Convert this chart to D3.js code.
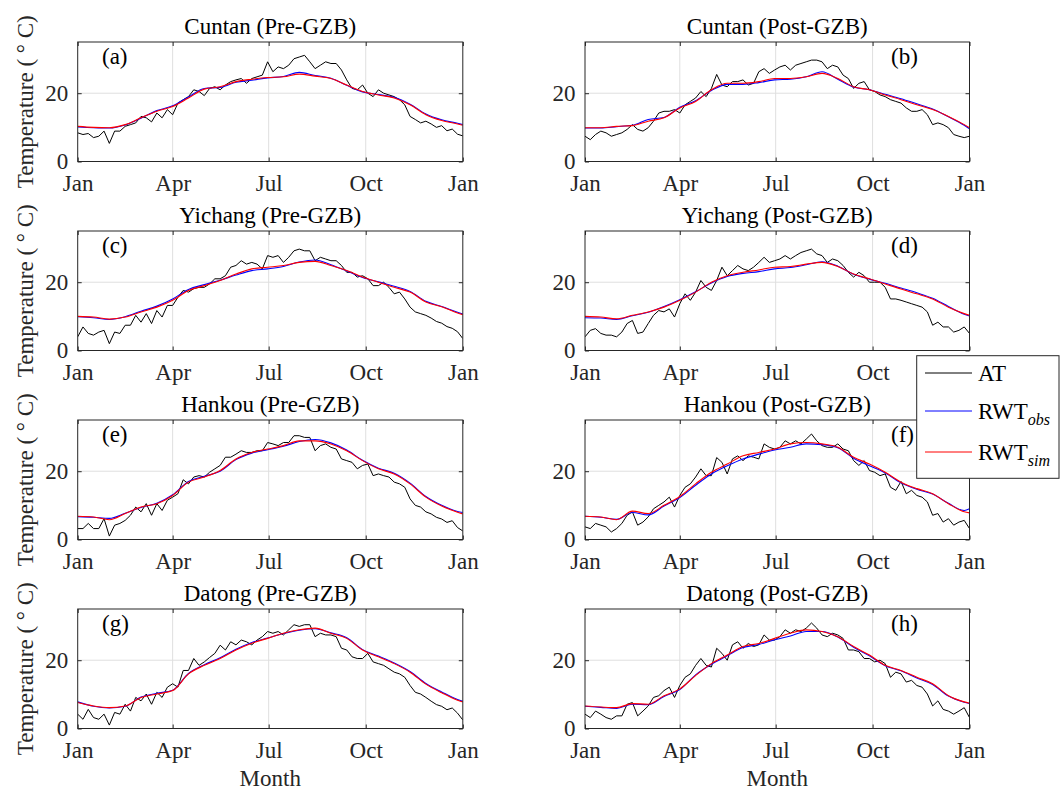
<!DOCTYPE html>
<html><head><meta charset="utf-8">
<script src="https://cdn.jsdelivr.net/npm/d3@7"></script>
<style>body{margin:0;background:#fff}svg{display:block}</style>
</head><body><svg id="c" width="1060" height="792"></svg>
<script>
// ---------- data ----------
const monthLabels = ["Jan","Apr","Jul","Oct","Jan"];
const monthDays = [0,90,181,273,365];
const yTickValues = [0,20];
const atDays = d3.range(0,366,5);               // daily series sampled every 5 days
const rwtDays = [0,15,30,45,60,75,90,105,120,135,150,165,180,195,210,225,240,255,270,285,300,315,330,345,360,365];

const titles = ["Cuntan (Pre-GZB)","Cuntan (Post-GZB)","Yichang (Pre-GZB)","Yichang (Post-GZB)",
                "Hankou (Pre-GZB)","Hankou (Post-GZB)","Datong (Pre-GZB)","Datong (Post-GZB)"];
const panelTags = ["(a)","(b)","(c)","(d)","(e)","(f)","(g)","(h)"];
const legendNames = ["AT","RWT","RWT"];
const legendSubs = ["","obs","sim"];

const atA = [8.4,7.9,8.2,7.0,7.4,8.9,5.3,8.9,8.9,10.3,
10.8,11.3,13.2,12.8,11.6,14.2,12.8,15.2,13.7,17.1,
18.1,19.0,21.0,20.5,19.3,21.4,21.9,21.0,22.4,23.4,
23.9,24.3,22.9,24.3,24.8,25.3,29.2,26.3,27.7,27.2,
28.2,30.1,30.6,31.1,29.2,27.2,28.2,29.2,28.7,28.7,
26.8,23.9,21.4,21.0,22.4,20.0,19.0,21.0,20.0,19.5,
19.0,18.1,16.6,13.2,12.3,11.3,11.8,11.0,10.0,10.5,
9.0,9.5,8.0,7.5];
const atB = [7.4,6.4,7.9,8.9,8.4,7.4,7.9,8.4,9.4,10.8,
9.4,8.9,9.9,11.8,14.2,14.7,14.7,15.2,14.2,16.6,
17.6,18.6,20.5,19.0,21.4,25.5,22.4,21.9,23.4,23.4,
23.9,22.4,22.9,26.3,27.2,25.8,26.8,27.7,28.2,26.8,
28.2,28.7,29.2,29.7,29.7,29.2,27.2,28.2,27.7,25.3,
24.3,21.4,22.9,23.4,21.0,20.5,19.5,19.0,18.1,17.6,
17.1,15.7,14.7,14.7,15.2,13.7,10.8,11.3,10.8,9.9,
7.9,7.4,7.0,7.4];
const atC = [4.0,6.9,5.0,4.5,5.4,5.9,2.0,5.4,5.0,7.4,
7.4,10.3,8.3,10.8,7.9,11.7,9.8,13.2,13.2,15.6,
17.6,17.1,18.1,18.5,18.5,19.5,21.0,21.0,21.9,24.4,
24.9,26.3,25.3,25.8,25.3,23.9,27.8,27.3,27.8,25.8,
27.3,29.2,29.7,29.2,29.2,26.3,27.3,26.8,26.3,26.3,
24.9,22.9,22.9,21.5,21.9,21.0,19.0,19.0,20.0,18.5,
16.6,17.1,15.1,12.7,11.3,10.8,10.3,9.5,8.5,8.0,
7.0,6.5,5.5,3.5];
const atD = [4.0,5.9,6.4,5.0,4.5,4.5,4.0,5.4,7.9,8.8,
5.0,5.4,7.9,10.3,11.7,11.3,12.2,9.8,13.7,16.6,
14.7,17.1,20.5,18.5,17.6,20.5,24.4,21.9,23.4,24.9,
23.9,23.4,24.4,25.8,27.3,25.8,26.3,26.8,27.8,26.8,
27.8,28.7,29.2,29.7,28.3,27.8,25.8,26.8,26.3,24.9,
22.9,21.5,22.9,21.9,20.0,20.0,20.0,18.5,15.1,15.1,
14.7,14.2,13.7,13.2,12.7,11.3,7.4,8.3,6.9,6.9,
5.4,5.9,6.9,5.0];
const atE = [3.2,3.2,4.7,3.2,3.2,6.1,1.0,4.2,4.7,5.6,
7.1,9.5,8.1,10.5,7.1,10.5,8.5,11.5,12.4,13.4,
17.5,16.3,18.3,18.7,18.3,19.7,20.7,21.7,24.1,24.1,
25.0,26.0,25.5,25.5,26.0,26.0,28.4,28.0,27.5,28.4,
28.4,30.4,30.4,29.9,29.9,26.0,27.5,28.0,27.0,26.5,
23.6,23.1,22.6,20.7,21.7,22.1,18.7,19.2,18.7,18.3,
16.8,16.3,15.3,11.9,10.0,9.5,8.1,7.5,6.5,6.0,
5.0,5.5,3.5,2.5];
const atF = [3.7,3.2,4.7,4.2,3.7,2.2,3.2,4.7,7.1,8.1,
4.2,5.1,6.6,9.0,10.0,11.0,12.4,9.5,12.9,15.3,
16.3,18.3,20.7,18.7,18.7,24.0,22.6,19.2,23.6,24.5,
23.1,24.5,24.1,23.6,28.0,27.0,26.5,27.0,28.9,28.0,
28.9,28.0,29.4,30.9,28.9,27.5,27.0,27.0,28.0,26.5,
26.0,23.1,21.7,23.1,20.2,19.7,18.7,19.2,15.3,14.4,
17.0,13.4,14.4,12.9,12.4,11.0,7.1,7.6,5.1,6.1,
4.2,5.1,5.6,3.2];
const atG = [4.2,2.7,5.6,3.2,2.7,4.2,1.0,4.7,4.2,7.1,
5.1,9.1,8.1,10.1,7.1,10.6,9.1,12.1,13.1,12.1,
17.0,17.0,20.5,18.5,19.5,20.8,22.0,24.4,23.0,25.4,
24.5,25.9,25.4,24.5,25.9,26.9,28.4,27.9,28.4,27.4,
28.9,30.4,29.9,30.4,30.4,26.9,27.9,27.4,27.4,26.9,
23.5,23.0,21.0,20.5,20.5,22.0,19.5,19.0,18.5,17.5,
16.5,16.0,15.0,12.6,10.6,10.1,9.1,8.0,7.0,6.5,
5.5,6.0,4.5,2.5];
const atH = [4.2,3.2,5.1,4.2,3.2,2.7,3.7,3.7,7.1,7.6,
3.7,5.1,6.6,9.1,9.6,11.1,12.1,9.1,12.6,15.0,
16.0,18.5,20.5,18.5,18.0,23.5,22.0,20.0,24.5,25.4,
23.5,24.9,24.0,24.5,27.4,25.9,25.9,26.9,28.9,27.9,
28.9,28.4,29.4,30.9,29.4,27.4,26.9,27.9,27.4,26.4,
23.0,23.0,22.5,20.5,20.5,19.5,20.0,19.0,15.0,16.5,
16.0,13.6,14.1,12.6,12.1,10.1,6.6,8.1,5.6,5.1,
4.2,5.1,6.1,3.2];

const obsA = [10.1,9.9,9.8,10.7,12.7,14.9,16.3,18.9,21.4,21.7,23.2,23.8,24.5,24.9,26.1,25.2,24.4,22.3,20.4,19.6,18.8,16.8,13.9,12.2,11.2,10.8];
const simA = [10.3,10.0,9.9,10.8,12.8,14.7,16.1,18.6,21.2,21.9,23.4,24.1,24.6,24.8,25.6,25.0,24.3,22.4,20.5,19.5,18.6,16.6,13.7,12.0,11.0,10.6];
const obsB = [9.8,9.8,10.2,10.6,12.3,12.9,15.9,17.8,20.8,22.6,22.6,23.1,23.9,24.1,24.8,26.3,24.1,21.8,21.0,19.7,18.4,16.9,15.4,13.1,10.6,9.6];
const simB = [9.9,9.9,10.3,10.5,11.8,12.8,15.7,17.6,21.0,22.9,22.9,23.4,24.3,24.3,24.8,25.8,24.3,21.9,21.0,19.5,18.1,16.6,15.2,13.2,10.8,9.9];
const obsC = [9.9,9.6,9.1,9.9,11.5,13.0,15.1,17.9,19.3,20.6,22.1,23.4,23.9,24.6,25.9,26.5,25.1,23.3,21.4,20.1,18.8,17.3,14.4,12.9,11.2,10.7];
const simC = [10.0,9.8,9.2,9.8,11.3,12.7,14.7,17.6,19.0,20.5,22.4,23.9,24.4,24.9,25.8,26.1,24.9,23.4,21.5,20.0,18.5,17.1,14.2,12.8,11.0,10.5];
const obsD = [9.6,9.5,9.1,10.2,11.2,12.9,14.9,17.2,19.8,21.7,22.6,23.1,23.9,24.3,25.1,26.0,24.7,22.3,20.9,19.7,18.3,16.9,15.3,12.9,10.6,10.1];
const simD = [10.0,9.8,9.3,10.3,11.3,12.7,14.7,17.1,20.0,21.9,22.9,23.6,24.4,24.6,25.3,25.8,24.6,22.4,21.0,19.5,18.0,16.6,15.1,12.7,10.8,10.3];
const obsE = [6.7,6.5,6.2,7.7,9.4,10.6,13.1,17.0,18.5,20.0,23.4,25.3,26.3,27.3,28.7,29.3,28.3,26.2,23.2,20.9,19.4,16.5,12.6,10.0,8.2,7.9];
const simE = [6.8,6.6,5.8,7.6,9.5,10.5,12.9,16.8,18.3,20.2,23.6,25.5,26.5,27.5,28.9,28.9,28.0,26.0,23.1,20.7,19.2,16.3,12.4,9.8,8.0,7.5];
const obsF = [6.8,6.5,5.9,7.9,7.2,9.8,12.3,15.9,19.2,21.6,23.6,25.0,26.2,27.0,28.0,27.8,26.9,23.8,21.6,19.5,16.6,14.7,13.3,10.6,8.5,9.0];
const simF = [6.8,6.6,5.8,8.3,7.6,10.0,12.6,16.3,19.7,22.1,24.5,25.5,26.5,28.0,28.4,28.0,27.0,24.1,22.1,19.7,16.8,14.9,13.4,10.5,8.1,7.8];
const obsG = [7.8,6.5,6.0,6.5,9.2,10.3,11.2,16.1,18.7,20.7,23.2,25.2,26.5,27.8,28.8,29.2,28.0,26.6,23.1,21.2,19.2,16.7,13.2,10.7,8.5,8.0];
const simG = [7.6,6.6,6.1,6.6,9.1,10.1,11.1,16.0,18.5,20.5,23.0,25.0,26.4,27.9,28.9,29.4,27.9,26.4,23.0,21.0,19.0,16.5,13.0,10.5,8.3,7.8];
const obsH = [6.5,6.2,5.9,7.1,7.0,9.4,11.4,15.7,18.8,21.3,23.7,24.6,26.0,27.1,28.4,28.4,26.8,23.8,21.3,18.4,16.9,14.8,12.9,9.5,7.7,7.3];
const simH = [6.6,6.3,6.1,7.3,7.1,9.6,11.6,15.5,19.0,21.5,24.0,24.9,26.4,27.9,28.9,28.4,26.9,24.0,21.5,18.5,17.0,15.0,13.1,9.6,7.8,7.4];

const atSeries = [atA,atB,atC,atD,atE,atF,atG,atH];
const obsSeries = [obsA,obsB,obsC,obsD,obsE,obsF,obsG,obsH];
const simSeries = [simA,simB,simC,simD,simE,simF,simG,simH];

// ---------- layout ----------
const colX = [[77.7,462.8],[585,969.5]];
const rowY = [[42,161.5],[231,350.5],[420,539.5],[609,728.5]];
const axisColor = "#262626", gridColor = "#dfdfdf";
const FONT = "'Liberation Serif','Times New Roman',serif";
const FS = 23;

const svg = d3.select("#c");
svg.append("rect").attr("width",1060).attr("height",792).attr("fill","#fff");

titles.forEach((title,i)=>{
  const col = i%2, row = Math.floor(i/2);
  const [x0,x1] = colX[col], [top,bot] = rowY[row];
  const x = d3.scaleLinear().domain([0,365]).range([x0,x1]);
  const y = d3.scaleLinear().domain([0,35]).range([bot,top]);
  const g = svg.append("g");

  // grid
  g.selectAll(".gx").data(monthDays.slice(1,4)).join("line")
    .attr("x1",d=>x(d)).attr("x2",d=>x(d)).attr("y1",top).attr("y2",bot)
    .attr("stroke",gridColor).attr("stroke-width",1);
  g.selectAll(".gy").data([20]).join("line")
    .attr("x1",x0).attr("x2",x1).attr("y1",d=>y(d)).attr("y2",d=>y(d))
    .attr("stroke",gridColor).attr("stroke-width",1);

  const clipId = "clip"+i;
  svg.append("clipPath").attr("id",clipId).append("rect")
    .attr("x",x0).attr("y",top).attr("width",x1-x0).attr("height",bot-top);
  const lg = g.append("g").attr("clip-path",`url(#${clipId})`);

  const lineAT = d3.line().x((d,k)=>x(atDays[k])).y(d=>y(d));
  const lineRWT = d3.line().x((d,k)=>x(rwtDays[k])).y(d=>y(d)).curve(d3.curveMonotoneX);
  lg.append("path").attr("d",lineAT(atSeries[i])).attr("fill","none").attr("stroke","#000").attr("stroke-width",1);
  lg.append("path").attr("d",lineRWT(obsSeries[i])).attr("fill","none").attr("stroke","#0000ff").attr("stroke-width",1.1);
  lg.append("path").attr("d",lineRWT(simSeries[i])).attr("fill","none").attr("stroke","#ff0000").attr("stroke-width",1.1);

  // axes
  const styleAxis = sel => {
    sel.select(".domain").remove();
    sel.selectAll("line").attr("stroke",axisColor);
    sel.selectAll("text").attr("fill",axisColor).style("font-family",FONT).style("font-size",FS+"px");
  };
  // the last "Jan" label of panel (d) lies under the legend box, as in the reference
  const xFmt = (d,k) => (i===3 && k===4) ? "" : monthLabels[k];
  g.append("g").attr("transform",`translate(0,${bot})`)
    .call(d3.axisBottom(x).tickValues(monthDays).tickFormat(xFmt).tickSizeInner(-4).tickSizeOuter(0).tickPadding(13.5))
    .call(styleAxis);
  g.append("g").attr("transform",`translate(0,${top})`)
    .call(d3.axisTop(x).tickValues(monthDays).tickFormat("").tickSizeInner(-4).tickSizeOuter(0))
    .call(styleAxis);
  g.append("g").attr("transform",`translate(${x0},0)`)
    .call(d3.axisLeft(y).tickValues(yTickValues).tickSizeInner(-4).tickSizeOuter(0).tickPadding(9.5))
    .call(styleAxis);
  g.append("g").attr("transform",`translate(${x1},0)`)
    .call(d3.axisRight(y).tickValues(yTickValues).tickFormat("").tickSizeInner(-4).tickSizeOuter(0))
    .call(styleAxis);

  g.append("rect").attr("x",x0).attr("y",top).attr("width",x1-x0).attr("height",bot-top)
    .attr("fill","none").attr("stroke",axisColor).attr("stroke-width",1);

  // title
  g.append("text").attr("x",(x0+x1)/2).attr("y",top-8.5).attr("text-anchor","middle")
    .style("font-family",FONT).style("font-size",FS+"px").attr("fill","#000").text(title);
  // panel tag
  g.append("text").attr("x", col===0 ? x0+24.3 : x0+306).attr("y",top+22)
    .style("font-family",FONT).style("font-size",FS+"px").attr("fill","#000").text(panelTags[i]);

  if(col===0){
    g.append("text").attr("transform",`translate(32.5,${(top+bot)/2}) rotate(-90)`)
      .attr("text-anchor","middle").style("font-family",FONT).style("font-size",FS+"px")
      .attr("fill",axisColor).text("Temperature ( ° C)");
  }
  if(row===3){
    g.append("text").attr("x",(x0+x1)/2).attr("y",786).attr("text-anchor","middle")
      .style("font-family",FONT).style("font-size",FS+"px").attr("fill",axisColor).text("Month");
  }
});

// legend
const L = {x:916.7, y:355.7, w:142.3, h:122.6};
const lgG = svg.append("g");
lgG.append("rect").attr("x",L.x).attr("y",L.y).attr("width",L.w).attr("height",L.h)
  .attr("fill","#fff").attr("stroke",axisColor).attr("stroke-width",1);
const legColors = ["#000","#0000ff","#ff0000"];
const legY = [373,411,452];
legendNames.forEach((nm,k)=>{
  lgG.append("line").attr("x1",925).attr("x2",972).attr("y1",legY[k]).attr("y2",legY[k])
    .attr("stroke",legColors[k]).attr("stroke-width",1);
  const t = lgG.append("text").attr("x",978).attr("y",legY[k]+7.5)
    .style("font-family",FONT).style("font-size",FS+"px").attr("fill","#000");
  t.append("tspan").text(nm);
  if(legendSubs[k]) t.append("tspan").attr("dy",6).style("font-size","16px").style("font-style","italic").text(legendSubs[k]);
});
</script></body></html>
